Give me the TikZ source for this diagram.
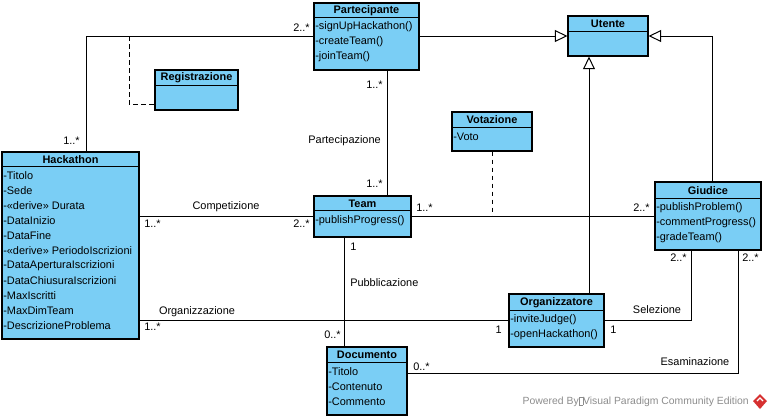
\documentclass[tikz,border=0pt]{standalone}
\usepackage{fontspec}
\setmainfont{Liberation Sans}
\usetikzlibrary{arrows.meta,fit}
\definecolor{classfill}{RGB}{122,206,245}
\definecolor{wm}{RGB}{140,140,140}
\definecolor{vpred}{RGB}{214,48,48}
\tikzset{
  classbox/.style={draw=black, line width=0.8pt, fill=classfill, inner sep=0pt},
  titletext/.style={font=\fontsize{8.2}{9}\selectfont\bfseries, inner sep=0pt},
  rowtext/.style={font=\fontsize{8.2}{9}\selectfont, inner sep=0pt, anchor=west},
  lbl/.style={font=\fontsize{8.2}{9}\selectfont, inner sep=0pt},
  assoc/.style={draw=black, line width=0.75pt},
  dashline/.style={draw=black, line width=0.75pt, dash pattern=on 3.5pt off 2.5pt},
  gen/.style={draw=black, line width=0.75pt, -{Triangle[open, length=9.5pt, width=9pt]}}
}
\newcommand{\umlclass}[7]{%
  \node[classbox, fit={(#2,#3) (#4,#5)}] (#1) {};
  \draw[line width=0.75pt] (#1.west |- {0,#6}) -- (#1.east |- {0,#6});
  \node[titletext] (#1-title) at ({(#2+#4)/2},{(#3+#6)/2+0.5}) {#7};
}
\newcommand{\umlrows}[4]{%
  \foreach \t [count=\i] in {#4} {\node[rowtext] (#1-r\i) at ({#2+1},{#3+15*(\i-1)}) {\t};}
}
\newcommand{\missingglyph}{{\setlength\fboxsep{0pt}\setlength\fboxrule{0.3pt}\fbox{\rule{0pt}{5.5pt}\hspace{2.6pt}}}}
\begin{document}
\begin{tikzpicture}[x=0.75pt,y=-0.75pt]
\useasboundingbox (0,0) rectangle (772,419);

% ---- classes ----
\umlclass{part}{314}{3}{419}{70}{17}{Partecipante}
\umlrows{part}{314}{27}{-signUpHackathon(),-createTeam(),-joinTeam()}

\umlclass{reg}{155}{70}{238}{110}{85}{Registrazione}

\umlclass{ute}{568}{16}{648}{56}{31}{Utente}

\umlclass{vot}{452}{112}{532}{151}{127}{Votazione}
\umlrows{vot}{452}{137}{-Voto}

\umlclass{giu}{655}{182}{761}{250}{198}{Giudice}
\umlrows{giu}{655}{208}{-publishProblem(),-commentProgress(),-gradeTeam()}

\umlclass{team}{314}{196}{411}{237}{210}{Team}
\umlrows{team}{314}{221}{-publishProgress()}

\umlclass{hack}{2}{152}{139}{339}{166}{Hackathon}
\umlrows{hack}{2}{176}{-Titolo,-Sede,-«derive» Durata,-DataInizio,-DataFine,-«derive» PeriodoIscrizioni,-DataAperturaIscrizioni,-DataChiusuraIscrizioni,-MaxIscritti,-MaxDimTeam,-DescrizioneProblema}

\umlclass{org}{509}{294}{604}{347}{310}{Organizzatore}
\umlrows{org}{509}{320}{-inviteJudge(),-openHackathon()}

\umlclass{doc}{327}{347}{407}{415}{362}{Documento}
\umlrows{doc}{327}{372}{-Titolo,-Contenuto,-Commento}

% ---- connectors ----
% Registrazione: Partecipante -- Hackathon
\draw[assoc] (part.west |- {0,36}) -- (86,36) -- (hack.north -| {86,0});
\coordinate (regjoin) at (129,36);
\draw[dashline] (regjoin) -- (129,104) -- (reg.west |- {0,104});
\node[lbl, anchor=east] (m1) at (310,28) {2..*};
\node[lbl, anchor=east] (m2) at (80,141) {1..*};

% Partecipazione: Partecipante -- Team
\draw[assoc] (part.south -| {387,0}) -- (team.north -| {387,0});
\node[lbl, anchor=east] (m3) at (383,85) {1..*};
\node[lbl, anchor=east] (m4) at (383,184) {1..*};
\node[lbl, anchor=east] (l1) at (381,141) {Partecipazione};

% Generalizations
\draw[gen] (part.east |- {0,36}) -- (ute.west |- {0,36});
\draw[gen] (giu.north -| {712,0}) -- (712,36) -- (ute.east |- {0,36});
\draw[gen] (org.north -| {589,0}) -- (ute.south -| {589,0});

% Votazione: Team -- Giudice
\draw[assoc] (team.east |- {0,216}) -- (giu.west |- {0,216});
\coordinate (votjoin) at (492,216);
\draw[dashline] (vot.south -| {492,0}) -- (votjoin);
\node[lbl, anchor=west] (m5) at (416,208) {1..*};
\node[lbl, anchor=east] (m6) at (650,208) {2..*};

% Competizione: Hackathon -- Team
\draw[assoc] (hack.east |- {0,216}) -- (team.west |- {0,216});
\node[lbl] (l2) at (226,207) {Competizione};
\node[lbl, anchor=west] (m7) at (144,224) {1..*};
\node[lbl, anchor=east] (m8) at (310,224) {2..*};

% Pubblicazione: Team -- Documento
\draw[assoc] (team.south -| {344,0}) -- (doc.north -| {344,0});
\node[lbl, anchor=west] (m9) at (350,247) {1};
\node[lbl, anchor=west] (l3) at (350,283) {Pubblicazione};
\node[lbl, anchor=east] (m10) at (341,335) {0..*};

% Organizzazione: Hackathon -- Organizzatore
\draw[assoc] (hack.east |- {0,320}) -- (org.west |- {0,320});
\node[lbl] (l4) at (197,312) {Organizzazione};
\node[lbl, anchor=west] (m11) at (144,327) {1..*};
\node[lbl, anchor=east] (m12) at (502,330) {1};

% Selezione: Organizzatore -- Giudice
\draw[assoc] (org.east |- {0,320}) -- (691,320) -- (giu.south -| {691,0});
\node[lbl, anchor=west] (m13) at (610,330) {1};
\node[lbl] (l5) at (657,310) {Selezione};
\node[lbl, anchor=east] (m14) at (687,258) {2..*};

% Esaminazione: Documento -- Giudice
\draw[assoc] (doc.east |- {0,373}) -- (738,373) -- (giu.south -| {738,0});
\node[lbl, anchor=west] (m15) at (413,367) {0..*};
\node[lbl] (l6) at (695,362) {Esaminazione};
\node[lbl, anchor=west] (m16) at (742,258) {2..*};

% ---- watermark ----
\node[lbl, anchor=east, text=wm, font=\fontsize{7.8}{9}\selectfont] (wmk) at (749,402) {Powered By\missingglyph Visual Paradigm Community Edition};
\fill[vpred] (760,394) -- (767,401) -- (760,409) -- (753,401) -- cycle;
\draw[white, line width=0.9pt] (757,401) -- (760,398) -- (763,401);
\end{tikzpicture}
\end{document}
